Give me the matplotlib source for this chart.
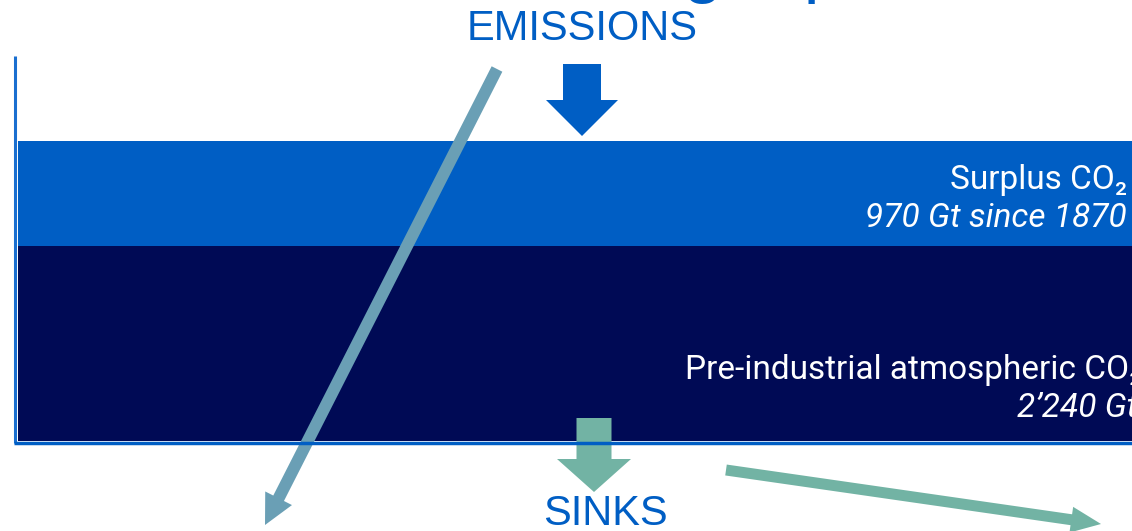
import matplotlib.pyplot as plt
from matplotlib.patches import Rectangle, FancyArrow

# carbon stock figures shown in the two atmosphere layers
layer_names = ["Pre-industrial atmospheric CO\u2082", "Surplus CO\u2082"]
layer_values = ["2\u2019240 Gt", "970 Gt since 1870"]
flow_labels = ["EMISSIONS", "SINKS"]
title = "The actual carbon budget presentation"

BLUE = "#005ec4"
NAVY = "#000a55"
TEAL = "#72b3a4"
STEEL = "#6a9fb5"
FONT = ["Roboto", "DejaVu Sans"]
ARIAL = ["Liberation Sans", "DejaVu Sans"]

W, H = 1132, 531
fig = plt.figure(figsize=(W / 100, H / 100), dpi=100)
ax = fig.add_axes([0, 0, 1, 1])
ax.set_xlim(0, W)
ax.set_ylim(H, 0)
ax.axis("off")

# title, mostly above the top edge
ax.text(582, -11, title, color=BLUE, fontsize=52, ha="center", va="baseline",
        family=ARIAL)

# atmosphere layers (top, bottom in px)
ax.add_patch(Rectangle((18, 246), W, 195, color=NAVY, lw=0))
ax.add_patch(Rectangle((18, 141), W, 105, color=BLUE, lw=0))

# axis lines
ax.plot([15, 15], [56, 443], color="#1a6fd0", lw=2.2, solid_capstyle="butt")
ax.plot([14, W], [443, 443], color=BLUE, lw=2.5, solid_capstyle="butt")

# layer labels
lab = dict(color="white", fontsize=24, va="baseline", family=FONT)
ax.text(1127, 189, layer_names[1], ha="right", **lab)
ax.text(1127, 227, layer_values[1], ha="right", style="italic", **lab)
ax.text(685, 379, layer_names[0], ha="left", **lab)
ax.text(1017, 417, layer_values[0], ha="left", style="italic", **lab)

# emissions in, sinks out
ax.add_patch(FancyArrow(582, 64, 0, 72, width=38, head_width=72, head_length=36,
                        length_includes_head=True, color=BLUE, lw=0))
ax.add_patch(FancyArrow(594, 418, 0, 74, width=35, head_width=74,
                        head_length=33, length_includes_head=True, color=TEAL,
                        lw=0))
ax.text(582, 40, flow_labels[0], color=BLUE, fontsize=30, ha="center",
        va="baseline", family=ARIAL)
ax.text(605, 525, flow_labels[1], color=BLUE, fontsize=30, ha="center",
        va="baseline", family=ARIAL)

# diagonal flows
ax.add_patch(FancyArrow(497, 69, 265 - 497, 525 - 69, width=12, head_width=30,
                        head_length=30, length_includes_head=True, color=STEEL,
                        lw=0))
ax.add_patch(FancyArrow(726, 470, 1101 - 726, 524 - 470, width=11,
                        head_width=26, head_length=30,
                        length_includes_head=True, color=TEAL, lw=0))

fig.savefig("out.png", dpi=100)
